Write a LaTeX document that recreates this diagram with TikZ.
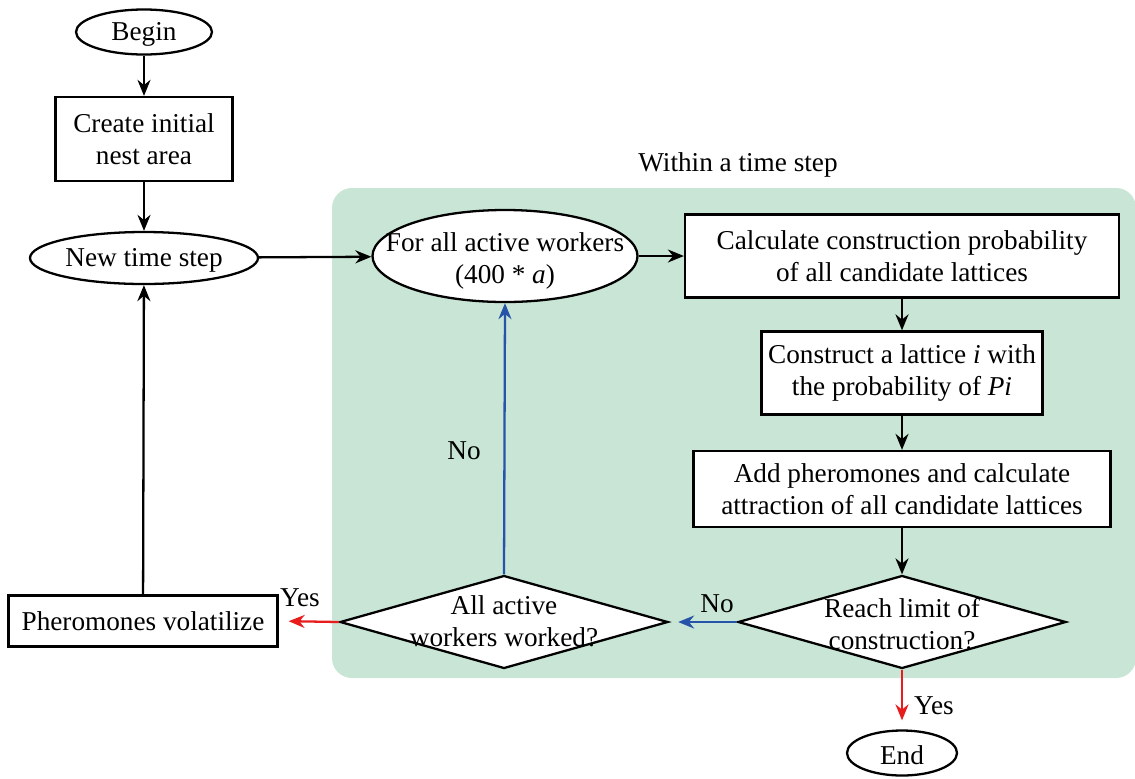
\documentclass[tikz,border=0pt]{standalone}
\usepackage{fontspec}
\setmainfont{Liberation Serif}
\usetikzlibrary{shapes.geometric}
\usetikzlibrary{arrows.meta}
\newcommand{\pxu}{0.02cm}
\definecolor{panelgreen}{RGB}{200,229,213}
\definecolor{noblue}{RGB}{38,84,168}
\definecolor{yesred}{RGB}{232,28,28}

\begin{document}
\begin{tikzpicture}[x=\pxu, y=-\pxu, font=\fontsize{15.5}{18}\selectfont,
    every node/.style={align=center, inner sep=0pt},
    term/.style={ellipse, draw, fill=white, line width=1.3pt},
    procbox/.style={rectangle, draw, fill=white, line width=1.3pt},
    decision/.style={diamond, draw, fill=white, line width=1.3pt},
    flow/.style={line width=1.3pt, -{Stealth[length=3.2mm, width=2.6mm]}}]
    \useasboundingbox (0,0) rectangle (1135,778);
    % time step panel
    \fill [panelgreen, rounded corners=0.4cm] (332,188) rectangle (1136,678);
    \node (within) at (738,165) {Within a time step};
    % left column
    \node [term, minimum width=136*\pxu, minimum height=45*\pxu] (begin) at (144,32) {};
    \node (begintxt) at (144,34) {Begin};
    \node [procbox, minimum width=177*\pxu, minimum height=84*\pxu] (nest) at (144,139) {Create initial\\nest area};
    \node [term, minimum width=228*\pxu, minimum height=52*\pxu] (newstep) at (144,258) {};
    \node (newsteptxt) at (144,260) {New time step};
    \node [procbox, minimum width=269*\pxu, minimum height=51*\pxu] (volat) at (143,621) {Pheromones volatilize};
    % inside the time step
    \node [term, minimum width=265*\pxu, minimum height=92*\pxu] (workers) at (505,256) {};
    \node (workerstxt) at (505,261) {For all active workers\\(400 * \textit{a})};
    \node [procbox, minimum width=434*\pxu, minimum height=83*\pxu] (calc) at (902,256) {Calculate construction probability\\of all candidate lattices};
    \node [procbox, minimum width=281*\pxu, minimum height=83*\pxu] (constr) at (902,373) {Construct a lattice \textit{i} with\\the probability of \textit{Pi}};
    \node [procbox, minimum width=417*\pxu, minimum height=76*\pxu] (phero) at (902,489) {Add pheromones and calculate\\attraction of all candidate lattices};
    \node [decision, minimum width=328*\pxu, minimum height=93*\pxu] (limit) at (902,622) {};
    \node (limittxt) at (902,624) {Reach limit of\\construction?};
    \node [decision, minimum width=328*\pxu, minimum height=93*\pxu] (allwork) at (504,622) {};
    \node (allworktxt) at (504,621) {All active\\workers worked?};
    \node [term, minimum width=110*\pxu, minimum height=45*\pxu] (end) at (902,753) {};
    \node (endtxt) at (902,755) {End};
    % main flow
    \draw [flow] (begin) -- (nest);
    \draw [flow] (nest) -- (newstep);
    \draw [flow] (newstep) -- (workers);
    \draw [flow] (workers) -- (calc);
    \draw [flow] (calc) -- (constr);
    \draw [flow] (constr) -- (phero);
    \draw [flow] (phero) -- (limit);
    % decisions
    \draw [flow, noblue, shorten >=0.18cm] (limit.west) -- (allwork.east);
    \node (nolimit) at (717,604) {No};
    \draw [flow, noblue] (allwork.north) -- (workers.south);
    \node (nowork) at (464,451) {No};
    \draw [flow, yesred, shorten >=0.2cm] (allwork.west) -- (volat.east);
    \node (yeswork) at (300,598) {Yes};
    \draw [flow, yesred, shorten >=0.18cm] (limit.south) -- (end.north);
    \node (yeslimit) at (934,706) {Yes};
    \draw [flow] (volat) -- (newstep);
\end{tikzpicture}
\end{document}
